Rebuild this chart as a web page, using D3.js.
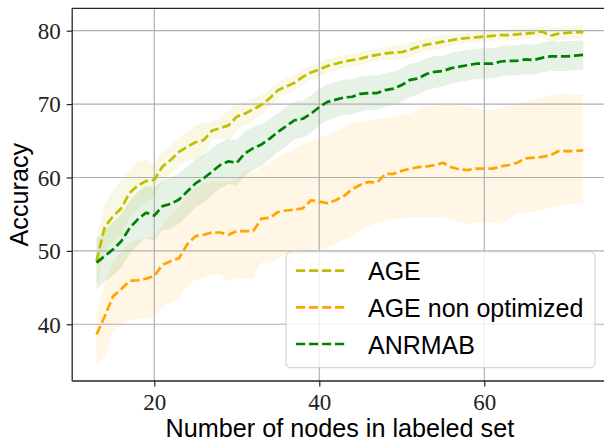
<!DOCTYPE html>
<html>
<head>
<meta charset="utf-8">
<script src="https://cdn.jsdelivr.net/npm/d3@7"></script>
<style>
  html, body { margin: 0; padding: 0; background: #fff; }
  svg { display: block; }
</style>
</head>
<body>
<svg id="chart" width="604" height="441"></svg>
<script>
// Size of the labeled set (x axis)
const nodes = [13,14,15,16,17,18,19,20,21,22,23,24,25,26,27,28,29,30,31,32,
               33,34,35,36,37,38,39,40,41,42,43,44,45,46,47,48,49,50,51,52,
               53,54,55,56,57,58,59,60,61,62,63,64,65,66,67,68,69,70,71,72];

// AGE: mean accuracy and spread
const ageMean = [48.6,53.3,54.7,55.8,57.9,58.9,59.5,59.7,61.5,62.4,
                 63.5,64.2,64.8,65.1,66.4,66.7,67.1,68.3,68.7,69.3,
                 69.9,70.8,71.9,72.4,72.9,73.7,74.3,74.7,75.2,75.5,
                 75.8,76.0,76.2,76.5,76.7,76.9,77.0,77.1,77.4,77.8,
                 78.1,78.3,78.5,78.7,78.9,79.0,79.1,79.2,79.3,79.4,
                 79.4,79.5,79.6,79.7,79.9,79.3,79.6,79.7,79.8,79.8];
const ageHigh = [51.8,56.5,58.3,59.5,61.0,62.2,62.4,61.9,63.5,64.4,
                 65.3,66.2,67.1,67.4,67.6,68.1,69.2,70.1,70.3,70.8,
                 71.2,72.0,73.0,73.5,74.0,74.8,75.3,75.7,76.1,76.4,
                 76.7,76.9,77.1,77.3,77.5,77.8,78.0,78.1,78.4,78.7,
                 79.0,79.2,79.4,79.5,79.6,79.7,79.8,79.9,80.0,80.1,
                 80.2,80.3,80.3,80.4,80.6,80.5,80.5,80.6,80.7,80.7];
const ageLow  = [45.4,50.0,51.1,52.1,54.8,55.6,56.6,57.5,59.5,60.4,
                 61.7,62.2,62.5,62.8,65.2,65.3,65.0,66.5,67.1,67.8,
                 68.6,69.6,70.8,71.3,71.8,72.6,73.3,73.7,74.3,74.6,
                 74.9,75.1,75.3,75.7,75.9,76.0,76.0,76.1,76.4,76.9,
                 77.2,77.4,77.6,77.9,78.2,78.3,78.4,78.5,78.6,78.7,
                 78.6,78.7,78.9,79.0,79.2,78.1,78.7,78.8,78.9,78.9];

// AGE non optimized
const ageNoMean = [38.6,41.1,43.8,44.8,45.9,46.0,46.2,46.6,48.1,48.6,
                   49.0,50.9,52.0,52.2,52.5,52.5,52.2,52.7,52.7,52.7,
                   54.4,54.5,55.3,55.5,55.6,55.8,56.9,56.7,56.5,56.9,
                   57.5,58.4,59.0,59.4,59.3,60.5,60.5,60.9,61.2,61.4,
                   61.5,61.7,62.0,61.4,61.1,61.0,61.2,61.2,61.2,61.5,
                   61.7,62.0,62.6,62.7,62.8,63.0,63.6,63.6,63.6,63.7];
const ageNoHigh = [41.9,45.5,48.5,50.0,51.0,51.5,51.8,52.0,53.5,55.0,
                   56.0,57.5,58.5,59.2,59.5,59.4,59.5,59.8,61.0,60.5,
                   61.5,62.0,62.8,63.3,64.0,64.5,65.0,65.4,65.8,66.3,
                   66.8,67.4,67.6,67.8,68.0,68.1,68.3,68.5,68.7,69.2,
                   69.6,69.8,69.9,69.9,69.9,69.6,69.3,69.2,69.2,69.5,
                   69.8,70.1,70.3,70.6,70.9,71.2,71.4,71.4,71.3,71.2];
const ageNoLow  = [34.4,35.5,39.2,39.8,40.5,40.8,40.8,41.0,42.3,43.0,
                   43.5,45.4,46.0,46.4,46.8,46.8,45.9,46.2,46.2,46.3,
                   48.5,48.2,49.0,49.6,49.5,49.6,49.8,50.1,50.5,51.0,
                   51.6,52.0,52.8,53.4,53.8,54.1,54.3,54.4,54.5,54.6,
                   54.6,54.6,54.5,54.2,53.9,53.7,53.8,53.9,53.8,53.7,
                   54.4,55.1,55.2,55.3,55.6,55.9,56.2,56.3,56.4,56.5];

// ANRMAB
const anrMean = [48.4,49.3,50.2,51.3,53.1,54.3,55.2,54.8,56.1,56.4,
                 57.0,58.1,59.2,59.9,60.8,61.7,62.2,62.0,63.3,64.0,
                 64.5,65.3,66.2,67.0,67.8,68.0,68.7,69.6,70.3,70.6,
                 70.9,71.0,71.4,71.5,71.5,71.9,72.1,72.6,73.3,73.5,
                 74.1,74.4,74.5,74.9,75.1,75.3,75.5,75.5,75.5,75.8,
                 75.9,75.9,76.1,76.0,76.3,76.5,76.5,76.5,76.6,76.7];
const anrHigh = [51.6,52.8,53.9,55.0,56.8,58.0,58.9,58.6,59.6,60.0,
                 60.5,61.5,62.5,63.1,63.9,64.8,65.2,65.1,66.3,66.9,
                 67.3,68.0,68.8,69.6,70.4,70.5,71.2,72.1,72.7,73.0,
                 73.3,73.4,73.8,73.9,73.9,74.2,74.4,74.9,75.5,75.7,
                 76.2,76.5,76.6,77.0,77.2,77.4,77.5,77.6,77.6,77.9,
                 78.0,78.0,78.2,78.1,78.4,78.5,78.5,78.6,78.6,78.7];
const anrLow  = [44.7,45.8,46.7,47.7,49.6,50.8,51.7,51.4,52.8,53.0,
                 53.7,54.8,55.9,56.6,57.6,58.5,59.1,58.9,60.3,61.0,
                 61.6,62.5,63.5,64.3,65.2,65.4,66.1,67.1,67.8,68.2,
                 68.5,68.6,69.0,69.2,69.2,69.6,69.8,70.3,71.0,71.3,
                 71.9,72.2,72.4,72.8,73.0,73.2,73.4,73.5,73.5,73.8,
                 73.9,73.9,74.1,74.0,74.3,74.5,74.5,74.5,74.6,74.7];

const seriesNames  = ["AGE", "AGE non optimized", "ANRMAB"];
const seriesColors = ["#bfbf00", "#ffa500", "#008000"];
const xTicks = [20, 40, 60];
const yTicks = [40, 50, 60, 70, 80];

const series = [
  { name: seriesNames[0], color: seriesColors[0], mean: ageMean,   low: ageLow,   high: ageHigh },
  { name: seriesNames[1], color: seriesColors[1], mean: ageNoMean, low: ageNoLow, high: ageNoHigh },
  { name: seriesNames[2], color: seriesColors[2], mean: anrMean,   low: anrLow,   high: anrHigh }
];

const plot = { left: 72.2, right: 607.6, top: 8.3, bottom: 381 };

const x = d3.scaleLinear().domain([10.05, 74.95]).range([plot.left, plot.right]);
const y = d3.scaleLinear().domain([32.27, 83.05]).range([plot.bottom, plot.top]);

const svg = d3.select("#chart");

svg.append("defs").append("clipPath").attr("id", "plot-clip")
  .append("rect")
  .attr("x", plot.left).attr("y", plot.top)
  .attr("width", plot.right - plot.left).attr("height", plot.bottom - plot.top);

const body = svg.append("g").attr("clip-path", "url(#plot-clip)");

// spread bands
const area = d3.area()
  .x((d, i) => x(nodes[i]))
  .y0(d => y(d[0]))
  .y1(d => y(d[1]));

series.forEach(s => {
  body.append("path")
    .datum(s.low.map((v, i) => [v, s.high[i]]))
    .attr("d", area)
    .attr("fill", s.color)
    .attr("fill-opacity", 0.1)
    .attr("stroke", "none");
});

// grid
const grid = body.append("g").attr("stroke", "#b0b0b0").attr("stroke-width", 1.2);
grid.selectAll(".gx").data(xTicks).join("line")
  .attr("x1", d => x(d)).attr("x2", d => x(d))
  .attr("y1", plot.top).attr("y2", plot.bottom);
grid.selectAll(".gy").data(yTicks).join("line")
  .attr("x1", plot.left).attr("x2", plot.right)
  .attr("y1", d => y(d)).attr("y2", d => y(d));

// mean lines
const line = d3.line()
  .x((d, i) => x(nodes[i]))
  .y(d => y(d));

const lineWidth = 2.7;
const dash = "9.2,3.8";
series.forEach(s => {
  body.append("path")
    .datum(s.mean)
    .attr("d", line)
    .attr("fill", "none")
    .attr("stroke", s.color)
    .attr("stroke-width", lineWidth)
    .attr("stroke-dasharray", dash)
    .attr("stroke-linejoin", "round");
});

// axes
const xAxis = d3.axisBottom(x).tickValues(xTicks).tickSize(5.5).tickPadding(6).tickFormat(d3.format("d"));
const yAxis = d3.axisLeft(y).tickValues(yTicks).tickSize(5.5).tickPadding(6).tickFormat(d3.format("d"));

const gx = svg.append("g").attr("transform", `translate(0,${plot.bottom})`).call(xAxis);
const gy = svg.append("g").attr("transform", `translate(${plot.left},0)`).call(yAxis);

[gx, gy].forEach(g => {
  g.select(".domain").remove();
  g.selectAll(".tick line").attr("stroke", "#222").attr("stroke-width", 1.2);
  g.selectAll(".tick text")
    .attr("fill", "#222")
    .style("font-family", "'Liberation Serif', 'DejaVu Serif', serif")
    .style("font-size", "23px");
});
gx.selectAll(".tick text").attr("dy", null).attr("y", 29);
gy.selectAll(".tick text").attr("dy", "0.34em");

// spines
const spines = svg.append("g").attr("stroke", "#262626").attr("stroke-width", 1.3).attr("fill", "none");
spines.append("line").attr("x1", plot.left).attr("x2", plot.left).attr("y1", plot.top).attr("y2", plot.bottom);
spines.append("line").attr("x1", plot.left).attr("x2", plot.right).attr("y1", plot.bottom).attr("y2", plot.bottom);
spines.append("line").attr("x1", plot.left).attr("x2", plot.right).attr("y1", plot.top).attr("y2", plot.top);
spines.append("line").attr("x1", plot.right).attr("x2", plot.right).attr("y1", plot.top).attr("y2", plot.bottom);

// axis titles
const sans = "'Liberation Sans', Arial, Helvetica, sans-serif";
svg.append("text")
  .attr("x", (plot.left + plot.right) / 2)
  .attr("y", 436.5)
  .attr("text-anchor", "middle")
  .style("font-family", sans)
  .style("font-size", "25.2px")
  .attr("fill", "#000")
  .text("Number of nodes in labeled set");

svg.append("text")
  .attr("transform", `translate(27.5,${(plot.top + plot.bottom) / 2}) rotate(-90)`)
  .attr("text-anchor", "middle")
  .style("font-family", sans)
  .style("font-size", "25.2px")
  .attr("fill", "#000")
  .text("Accuracy");

// legend
const legend = svg.append("g");
legend.append("rect")
  .attr("x", 286).attr("y", 251.7)
  .attr("width", 309).attr("height", 116)
  .attr("rx", 5).attr("ry", 5)
  .attr("fill", "#fff").attr("fill-opacity", 0.8)
  .attr("stroke", "#cccccc").attr("stroke-opacity", 0.8).attr("stroke-width", 1.2);

const rowY = [270.7, 307.3, 344];
series.forEach((s, i) => {
  legend.append("line")
    .attr("x1", 296).attr("x2", 347)
    .attr("y1", rowY[i]).attr("y2", rowY[i])
    .attr("stroke", s.color)
    .attr("stroke-width", lineWidth)
    .attr("stroke-dasharray", dash);
  legend.append("text")
    .attr("x", 368)
    .attr("y", rowY[i] + 9.5)
    .style("font-family", sans)
    .style("font-size", "25px")
    .attr("fill", "#000")
    .text(s.name);
});
</script>
</body>
</html>
